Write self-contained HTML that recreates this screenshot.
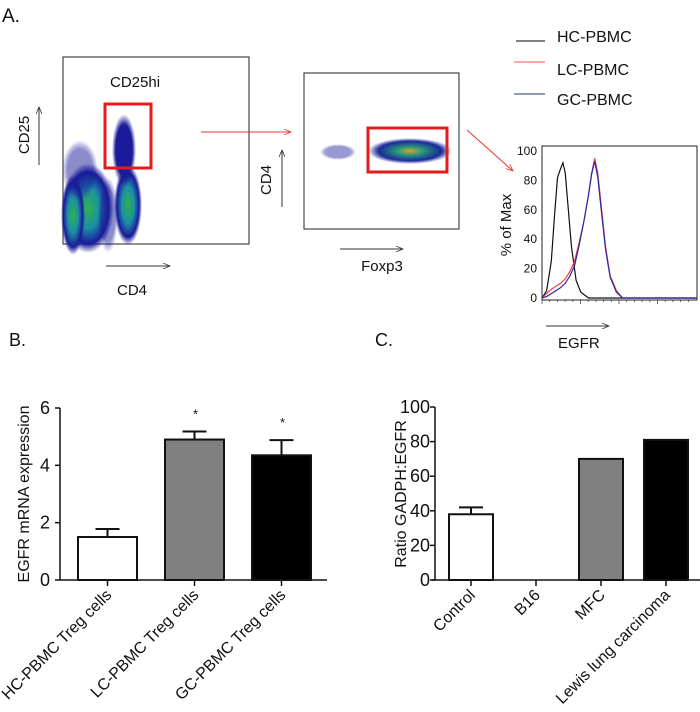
<!DOCTYPE html>
<html><head><meta charset="utf-8"><style>
body{margin:0;background:#fff;width:700px;height:712px;overflow:hidden;font-family:"Liberation Sans",sans-serif}
svg{display:block}
text{font-family:"Liberation Sans",sans-serif;fill:#111}
</style></head><body>
<svg id="fig" width="700" height="712" viewBox="0 0 700 712">
<defs>
<radialGradient id="cl" cx="50%" cy="50%" r="50%">
<stop offset="0" stop-color="#2db34a"/><stop offset="0.45" stop-color="#1d8fa6"/><stop offset="0.8" stop-color="#1a1a9a"/><stop offset="1" stop-color="#1a1a9a" stop-opacity="0"/>
</radialGradient>
<radialGradient id="cl2" cx="50%" cy="50%" r="50%">
<stop offset="0" stop-color="#e0a020"/><stop offset="0.3" stop-color="#2a9a7a"/><stop offset="0.75" stop-color="#1a2a9a"/><stop offset="1" stop-color="#1a1a9a" stop-opacity="0"/>
</radialGradient>
<radialGradient id="cl3" cx="50%" cy="50%" r="50%">
<stop offset="0" stop-color="#1a1a9a"/><stop offset="0.7" stop-color="#1a1a9a"/><stop offset="1" stop-color="#1a1a9a" stop-opacity="0"/>
</radialGradient>
<marker id="ah" markerWidth="8" markerHeight="6" refX="7" refY="3" orient="auto"><path d="M0,0 L7,3 L0,6" fill="none" stroke="#333" stroke-width="0.8"/></marker>
<marker id="ahr" markerWidth="8" markerHeight="6" refX="7" refY="3" orient="auto"><path d="M0,0 L7,3 L0,6" fill="none" stroke="#e33" stroke-width="0.8"/></marker>
</defs>
<text x="2" y="22" font-size="19">A.</text>

<g>
<rect x="63" y="57" width="186" height="187" fill="#fff" stroke="#222" stroke-width="1"/>
<ellipse cx="88" cy="208" rx="26" ry="45" fill="url(#cl)"/>
<ellipse cx="73" cy="215" rx="12" ry="40" fill="url(#cl)"/>
<ellipse cx="108" cy="215" rx="10" ry="38" fill="url(#cl3)" opacity="0.5"/>
<ellipse cx="128" cy="205" rx="14" ry="40" fill="url(#cl)"/>
<ellipse cx="124" cy="150" rx="12" ry="36" fill="url(#cl3)"/>
<ellipse cx="80" cy="170" rx="18" ry="30" fill="url(#cl3)" opacity="0.5"/>
<rect x="105" y="104" width="46" height="64" fill="none" stroke="#e51a1a" stroke-width="3"/>
<text x="110" y="87" font-size="15">CD25hi</text>
<text transform="translate(29,135) rotate(-90)" font-size="15" text-anchor="middle">CD25</text>
<line x1="39" y1="165" x2="39" y2="107" stroke="#333" marker-end="url(#ah)"/>
<line x1="106" y1="266" x2="170" y2="266" stroke="#333" marker-end="url(#ah)"/>
<text x="132" y="295" font-size="15" text-anchor="middle">CD4</text>
</g>
<line x1="201" y1="132" x2="291" y2="132" stroke="#e33" marker-end="url(#ahr)"/>

<g>
<rect x="304" y="73" width="155" height="156" fill="#fff" stroke="#222"/>
<ellipse cx="338" cy="152" rx="18" ry="8" fill="url(#cl3)" opacity="0.45"/>
<ellipse cx="410" cy="151" rx="42" ry="13" fill="url(#cl2)"/>
<rect x="368" y="128" width="79" height="44" fill="none" stroke="#e51a1a" stroke-width="3"/>
<text transform="translate(271,180) rotate(-90)" font-size="15" text-anchor="middle">CD4</text>
<line x1="282" y1="207" x2="282" y2="150" stroke="#333" marker-end="url(#ah)"/>
<line x1="340" y1="249" x2="403" y2="249" stroke="#333" marker-end="url(#ah)"/>
<text x="382" y="271" font-size="15" text-anchor="middle">Foxp3</text>
</g>
<line x1="467" y1="130" x2="513" y2="171" stroke="#e33" marker-end="url(#ahr)"/>

<g>
<line x1="516" y1="41" x2="545" y2="41" stroke="#000"/>
<text x="557" y="42" font-size="16">HC-PBMC</text>
<line x1="514" y1="62" x2="545" y2="62" stroke="#f05050"/>
<text x="557" y="75" font-size="16">LC-PBMC</text>
<line x1="514" y1="94" x2="545" y2="94" stroke="#1f3a6a"/>
<text x="557" y="105" font-size="16">GC-PBMC</text>
</g>

<g id="hist"></g>
<g id="chartB"></g>
<g id="chartC"></g>
<text x="9" y="346" font-size="18">B.</text>
<text x="375" y="346" font-size="18">C.</text>
</svg>
<script>
const NS="http://www.w3.org/2000/svg";
function el(p,t,a,txt){const e=document.createElementNS(NS,t);for(const k in a)e.setAttribute(k,a[k]);if(txt!==undefined)e.textContent=txt;p.appendChild(e);return e;}

// Histogram data
const histX=[0,3,6,8,10,12,13.5,15,17,19,22,25,30,100];
const hcY=[0,5,25,55,82,88,92,85,60,35,12,4,0,0];
const lhX=[0,3,6,9,12,15,18,21,24,27,30,32,34,36,38,41,44,48,52,100];
const lcY=[0,3,6,8,10,13,18,25,38,52,70,85,95,85,65,35,15,5,0,0];
const gcY=[0,1,3,5,7,10,15,22,36,52,70,84,93,82,62,33,14,4,0,0];
const histTicks=[0,20,40,60,80,100];

(function(){
 const g=document.getElementById('hist');
 const x0=542,x1=697,yT=151,yB=298;
 const sx=v=>x0+v/100*(x1-x0), sy=v=>yB-v/100*(yB-yT);
 el(g,'rect',{x:x0,y:146,width:x1-x0,height:154,fill:'#fff',stroke:'#222'});
 histTicks.forEach(t=>{el(g,'text',{x:x0-5,y:sy(t)+4,'font-size':12,'text-anchor':'end'},t);});
 for(let i=0;i<20;i++){el(g,'line',{x1:x0+i*7.7,x2:x0+i*7.7,y1:300,y2:i%5==0?304:302,stroke:'#333','stroke-width':0.7});}
 const path=(xs,ys,c,n)=>{const p=el(g,'path',{d:xs.map((x,i)=>(i?'L':'M')+sx(x)+','+sy(ys[i])).join(''),fill:'none',stroke:c,'stroke-width':1.2});};
 path(histX,hcY,'#111','hc-curve');
 path(lhX,lcY,'#f03c3c','lc-curve');
 path(lhX,gcY,'#2a2aa8','gc-curve');
 el(g,'text',{transform:'translate(511,225) rotate(-90)','font-size':15,'text-anchor':'middle'},'% of Max');
 el(g,'line',{x1:546,y1:326,x2:609,y2:326,stroke:'#333','marker-end':'url(#ah)'});
 el(g,'text',{x:558,y:348,'font-size':15},'EGFR');
})();

// Panel B
const bCats=["HC-PBMC Treg cells","LC-PBMC Treg cells","GC-PBMC Treg cells"];
const bVals=[1.5,4.9,4.35];
const bErr=[0.28,0.28,0.53];
const bStars=["","*","*"];
const bTicks=[0,2,4,6];
const bFills=["#fff","#808080","#000"];

(function(){
 const g=document.getElementById('chartB');
 const ax=60,y0=580,yTop=408,xEnd=327,bw=59,step=87,first=107.5;
 const sy=v=>y0-v/6*(y0-yTop);
 el(g,'line',{x1:ax,y1:y0,x2:ax,y2:yTop,stroke:'#111','stroke-width':1.5});
 el(g,'line',{x1:ax,y1:y0,x2:xEnd,y2:y0,stroke:'#111','stroke-width':1.5});
 bTicks.forEach(t=>{el(g,'line',{x1:ax-5,x2:ax,y1:sy(t),y2:sy(t),stroke:'#111','stroke-width':1.5});el(g,'text',{x:ax-10,y:sy(t)+6,'font-size':18,'text-anchor':'end'},t);});
 el(g,'text',{transform:'translate(29,494) rotate(-90)','font-size':16,'text-anchor':'middle'},'EGFR mRNA expression');
 bVals.forEach((v,i)=>{
  const cx=first+i*step;
  const top=sy(v+bErr[i]);
  el(g,'line',{x1:cx,x2:cx,y1:sy(v),y2:top,stroke:'#111','stroke-width':2});
  el(g,'line',{x1:cx-12,x2:cx+12,y1:top,y2:top,stroke:'#111','stroke-width':2});
  const r=el(g,'rect',{x:cx-bw/2,y:sy(v),width:bw,height:y0-sy(v),fill:bFills[i],stroke:'#111','stroke-width':2});
  
  
  if(bStars[i])el(g,'text',{x:cx+1,y:top-13,'font-size':13,'text-anchor':'middle'},bStars[i]);
  el(g,'line',{x1:cx,x2:cx,y1:y0,y2:y0+6,stroke:'#111','stroke-width':1.5});
  el(g,'text',{transform:`translate(${cx+5},${y0+16}) rotate(-45)`,'font-size':16,'text-anchor':'end'},bCats[i]);
 });
})();

// Panel C
const cCats=["Control","B16","MFC","Lewis lung carcinoma"];
const cVals=[38,0,70,81];
const cErr=[4,0,0,0];
const cTicks=[0,20,40,60,80,100];
const cFills=["#fff","#fff","#808080","#000"];

(function(){
 const g=document.getElementById('chartC');
 const ax=435,y0=580,yTop=407,xEnd=700,bw=44,step=65,first=471;
 const sy=v=>y0-v/100*(y0-yTop);
 el(g,'line',{x1:ax,y1:y0,x2:ax,y2:yTop,stroke:'#111','stroke-width':1.5});
 el(g,'line',{x1:ax-3,y1:y0,x2:xEnd,y2:y0,stroke:'#111','stroke-width':1.5});
 cTicks.forEach(t=>{el(g,'line',{x1:ax-5,x2:ax,y1:sy(t),y2:sy(t),stroke:'#111','stroke-width':1.5});el(g,'text',{x:ax-5,y:sy(t)+6,'font-size':18,'text-anchor':'end'},t);});
 el(g,'text',{transform:'translate(406,494) rotate(-90)','font-size':16,'text-anchor':'middle'},'Ratio GADPH:EGFR');
 cVals.forEach((v,i)=>{
  const cx=first+i*step;
  if(cErr[i]>0){const top=sy(v+cErr[i]);
   el(g,'line',{x1:cx,x2:cx,y1:sy(v),y2:top,stroke:'#111','stroke-width':2});
   el(g,'line',{x1:cx-12,x2:cx+12,y1:top,y2:top,stroke:'#111','stroke-width':2});}
  if(v>0){const r=el(g,'rect',{x:cx-bw/2,y:sy(v),width:bw,height:y0-sy(v),fill:cFills[i],stroke:'#111','stroke-width':2});
   
   }
  el(g,'line',{x1:cx,x2:cx,y1:y0,y2:y0+6,stroke:'#111','stroke-width':1.5});
  el(g,'text',{transform:`translate(${cx+5},${y0+16}) rotate(-45)`,'font-size':16,'text-anchor':'end'},cCats[i]);
 });
})();
</script>
</body></html>
